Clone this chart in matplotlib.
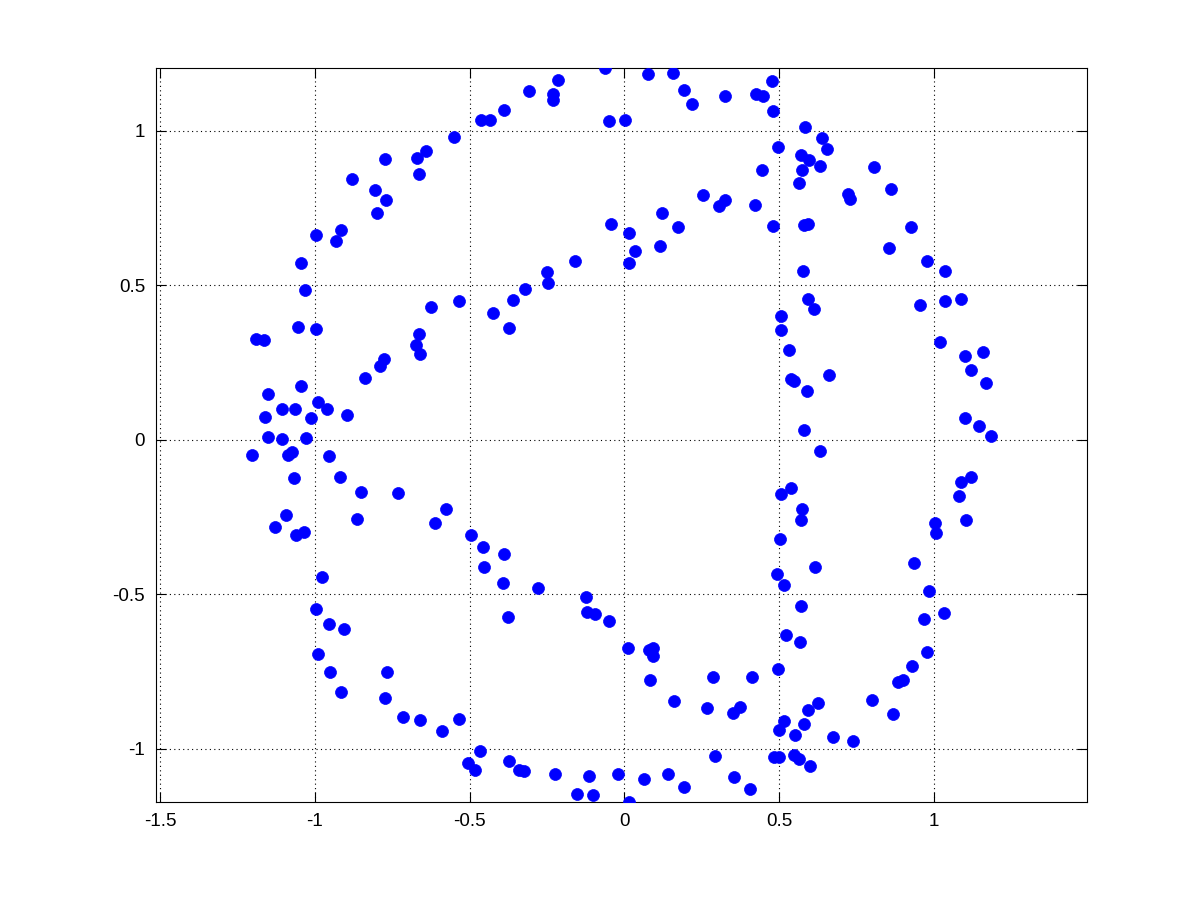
import matplotlib
matplotlib.use("Agg")
import matplotlib.pyplot as plt

x = [-0.642, -0.774, -0.671, -0.664, -0.880, -0.806, -0.771, -0.799, -0.996, -0.917,
     -0.933, -1.046, -1.032,
     -0.550, -0.462, -0.433, -0.389, -0.307, -0.230, -0.230, -0.214, -0.062, -0.049,
     -0.043, -0.159, -0.249, -0.247, -0.321, -0.360, -0.535, -0.625, -0.425,
     0.078, 0.158, 0.194, 0.219, 0.324, 0.426, 0.447, 0.476, 0.482, 0.003, 0.585,
     0.496, 0.571, 0.598, 0.575, 0.444, 0.566, 0.255, 0.326, 0.307, 0.423, 0.121,
     0.174, 0.482, 0.582, 0.595, 0.016, 0.035, 0.016, 0.116, 0.579, 0.593, 0.613,
     0.640, 0.656, 0.634, 0.808, 0.861, 0.724, 0.731, 0.928, 0.854, 0.977, 1.038,
     0.957, 1.038, 1.087,
     -1.056, -0.997, -1.190, -1.163, -0.665, -0.672, -0.661, -0.778, -0.788, -0.839,
     -1.046, -1.151, -0.991, -0.962, -1.107, -1.065, -1.162, -1.014, -0.897, -1.151,
     -1.107, -1.028, -1.203, -1.087, -1.075, -0.955, -1.069, -0.920, -0.850, -0.731,
     -1.094, -1.130, -1.062, -1.036, -0.865,
     -0.373, -0.577, -0.612, -0.496, -0.457, -0.390, -0.454,
     0.507, 0.507, 0.531, 0.538, 0.550, 0.590, 0.582, 0.540, 0.507, 0.575, 0.572,
     0.504,
     1.019, 1.100, 1.158, 1.119, 1.168, 0.660, 1.100, 1.145, 1.184, 0.632, 1.119,
     1.087, 1.083, 1.103, 1.003, 1.006, 0.935, 0.615,
     -0.978, -0.997, -0.955, -0.907, -0.989, -0.952, -0.768, -0.915, -0.774, -0.716,
     -0.660,
     -0.392, -0.279, -0.124, -0.376, -0.119, -0.094, -0.049, -0.590, -0.535, -0.467,
     -0.506, -0.483, -0.373, -0.340, -0.324, -0.224, -0.114, -0.021, -0.153, -0.100,
     0.494, 0.517, 0.572, 0.524, 0.569, 0.012, 0.080, 0.093, 0.093, 0.083, 0.287,
     0.414, 0.498, 0.161, 0.268, 0.352, 0.375, 0.595, 0.625, 0.517, 0.501, 0.582,
     0.553, 0.294, 0.485, 0.501, 0.550, 0.566, 0.601, 0.064, 0.142, 0.194, 0.355,
     0.407, 0.016,
     0.986, 1.032, 0.967, 0.977, 0.931, 0.883, 0.902, 0.802, 0.867, 0.676, 0.740]

y = [0.933, 0.909, 0.911, 0.859, 0.843, 0.809, 0.777, 0.735, 0.663, 0.680,
     0.644, 0.572, 0.485,
     0.981, 1.036, 1.036, 1.068, 1.129, 1.117, 1.100, 1.165, 1.203, 1.032,
     0.699, 0.578, 0.544, 0.508, 0.489, 0.452, 0.450, 0.430, 0.410,
     1.184, 1.188, 1.130, 1.087, 1.111, 1.117, 1.113, 1.159, 1.065, 1.036, 1.011,
     0.948, 0.921, 0.906, 0.874, 0.874, 0.832, 0.793, 0.777, 0.757, 0.761, 0.735,
     0.689, 0.693, 0.696, 0.699, 0.670, 0.612, 0.573, 0.628, 0.547, 0.456, 0.422,
     0.975, 0.939, 0.887, 0.883, 0.812, 0.794, 0.779, 0.689, 0.621, 0.579, 0.547,
     0.435, 0.448, 0.456,
     0.366, 0.359, 0.327, 0.324, 0.343, 0.306, 0.276, 0.262, 0.238, 0.201,
     0.175, 0.149, 0.121, 0.101, 0.101, 0.101, 0.074, 0.069, 0.081, 0.010,
     0.001, 0.006, -0.048, -0.048, -0.040, -0.054, -0.123, -0.119, -0.168, -0.173,
     -0.243, -0.282, -0.307, -0.298, -0.256,
     0.362, -0.223, -0.269, -0.307, -0.346, -0.369, -0.412,
     0.401, 0.356, 0.291, 0.195, 0.191, 0.159, 0.032, -0.155, -0.175, -0.223, -0.259,
     -0.320,
     0.317, 0.272, 0.285, 0.227, 0.185, 0.210, 0.071, 0.045, 0.013, -0.037, -0.119,
     -0.136, -0.181, -0.259, -0.268, -0.301, -0.399, -0.413,
     -0.445, -0.546, -0.595, -0.612, -0.693, -0.751, -0.751, -0.816, -0.835, -0.896,
     -0.906,
     -0.463, -0.479, -0.508, -0.573, -0.557, -0.563, -0.586, -0.942, -0.903, -1.006,
     -1.045, -1.068, -1.039, -1.068, -1.071, -1.081, -1.087, -1.081, -1.146, -1.149,
     -0.434, -0.469, -0.537, -0.631, -0.654, -0.673, -0.680, -0.673, -0.699, -0.777, -0.767,
     -0.767, -0.741, -0.845, -0.867, -0.883, -0.864, -0.874, -0.850, -0.909, -0.939, -0.919,
     -0.955, -1.023, -1.026, -1.026, -1.019, -1.032, -1.055, -1.097, -1.081, -1.123, -1.091,
     -1.129, -1.1715,
     -0.489, -0.560, -0.579, -0.686, -0.731, -0.783, -0.777, -0.841, -0.887, -0.961, -0.974]

xticks = [-1.5, -1, -0.5, 0, 0.5, 1]
xticklabels = ["-1.5", "-1", "-0.5", "0", "0.5", "1"]
yticks = [-1, -0.5, 0, 0.5, 1]
yticklabels = ["-1", "-0.5", "0", "0.5", "1"]

plt.rcParams['font.family'] = ['Liberation Sans', 'DejaVu Sans']

fig = plt.figure(figsize=(12.01, 9.01), dpi=100)
ax = fig.add_axes([0.13, 0.11, 0.775, 0.815])
ax.plot(x, y, linestyle='none', marker='o', markersize=8.6,
        markerfacecolor=(0, 0, 1), markeredgecolor=(0, 0, 1), markeredgewidth=0.5,
        clip_on=True, zorder=3)

ax.set_xlim(-1.513, 1.495)
ax.set_ylim(-1.1715, 1.204)
ax.set_xticks(xticks)
ax.set_xticklabels(xticklabels)
ax.set_yticks(yticks)
ax.set_yticklabels(yticklabels)
ax.grid(True, color='black', linestyle=(0, (1, 3)), linewidth=0.8)
ax.set_axisbelow(True)
ax.tick_params(direction='in', length=7, width=0.8, top=True, right=True,
               labelsize=13.5, colors='black')
ax.tick_params(axis='x', pad=8)
ax.tick_params(axis='y', pad=8)
for s in ax.spines.values():
    s.set_linewidth(0.8)
    s.set_color('black')

fig.savefig('out.png', dpi=100, facecolor='white')
